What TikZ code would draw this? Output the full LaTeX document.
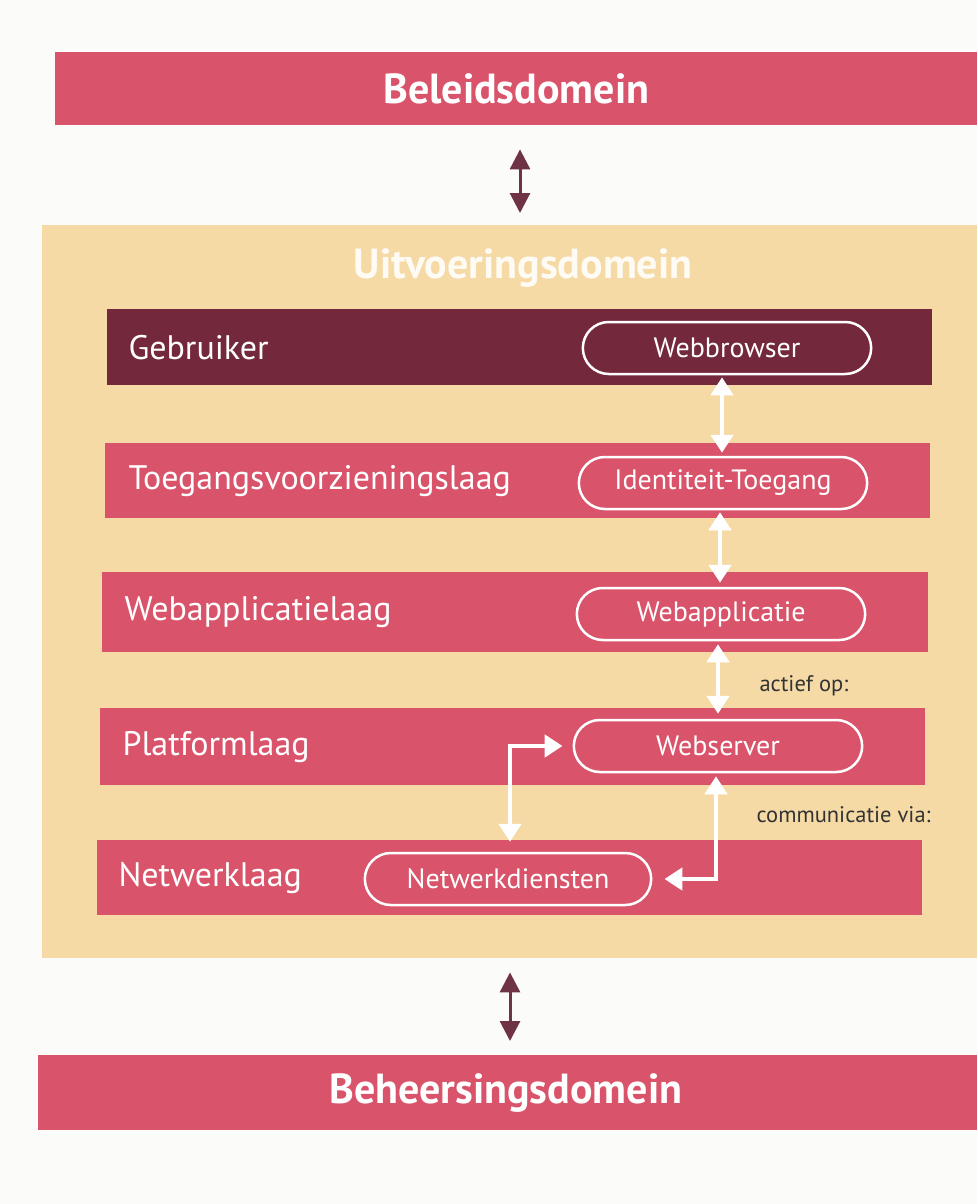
\documentclass[tikz,border=0pt]{standalone}
\usepackage{fontspec}
\setmainfont{PT Sans}
\usetikzlibrary{arrows.meta,shapes.misc}
\definecolor{pinkbar}{HTML}{D9546B}
\definecolor{darkbar}{HTML}{74283B}
\definecolor{panelc}{HTML}{F6DAA6}
\definecolor{maroonarrow}{HTML}{6E3344}
\definecolor{paper}{HTML}{FBFBF9}
\begin{document}
\begin{tikzpicture}[x=1pt,y=-1pt,
  bar/.style={fill=pinkbar, draw=none, anchor=north west, inner sep=0pt},
  domtext/.style={text=white, font=\fontsize{42}{48}\selectfont\bfseries},
  laytext/.style={text=white, anchor=west, font=\fontsize{34}{40}\selectfont},
  pill/.style={rounded rectangle, draw=white, line width=2.5pt, minimum width=295pt, minimum height=52pt, text=white, font=\fontsize{28}{32}\selectfont},
  note/.style={text=black!80, font=\fontsize{22.5}{26}\selectfont, anchor=west},
  warrow/.style={draw=white, line width=4.5pt, {Triangle[width=22pt,length=18pt]}-{Triangle[width=22pt,length=18pt]}},
  darrow/.style={draw=maroonarrow, line width=3pt, {Triangle[width=20pt,length=20pt]}-{Triangle[width=20pt,length=20pt]}}
]
\useasboundingbox (0,0) rectangle (977,1204);
\fill[paper] (0,0) rectangle (977,1204);

% domain bars and panel
\node[bar, minimum width=922pt, minimum height=73pt] (bel) at (55,52) {};
\node[domtext] at (bel.center) {Beleidsdomein};
\node[bar, fill=panelc, minimum width=935pt, minimum height=733pt] (panel) at (42,225) {};
\node[domtext, text=white!88!panelc] (uit) at (523,268) {Uitvoeringsdomein};
\node[bar, minimum width=939pt, minimum height=75pt] (beh) at (38,1055) {};
\node[domtext] at ([xshift=-2pt]beh.center) {Beheersingsdomein};

\draw[darrow, shorten <=24pt, shorten >=12pt] (bel.south -| 520,0) -- (panel.north -| 520,0);
\draw[darrow, shorten <=14pt, shorten >=14pt] (panel.south -| 510,0) -- (beh.north -| 510,0);

% layers
\node[bar, fill=darkbar, minimum width=825pt, minimum height=76pt] (gebr) at (107,309) {};
\node[laytext] at ([xshift=18pt]gebr.west) {Gebruiker};
\node[bar, minimum width=825pt, minimum height=75pt] (toeg) at (105,443) {};
\node[laytext] at ([xshift=20pt]toeg.west) {Toegangsvoorzieningslaag};
\node[bar, minimum width=826pt, minimum height=80pt] (weba) at (102,572) {};
\node[laytext] at ([xshift=19pt]weba.west) {Webapplicatielaag};
\node[bar, minimum width=825pt, minimum height=77pt] (plat) at (100,708) {};
\node[laytext] at ([xshift=19pt]plat.west) {Platformlaag};
\node[bar, minimum width=825pt, minimum height=75pt] (netw) at (97,840) {};
\node[laytext] at ([xshift=18pt]netw.west) {Netwerklaag};

% components
\node[pill] (wb) at (727,348) {Webbrowser};
\node[pill] (it) at (723,483) {Identiteit-Toegang};
\node[pill] (wa) at (721,614) {Webapplicatie};
\node[pill] (ws) at (718,746) {Webserver};
\node[pill, minimum width=293pt] (nd) at (508,879) {Netwerkdiensten};

\node[note] (act) at (756,686) {actief op:};
\node[note] (com) at (753,815) {communicatie via:};

% connectors
\draw[warrow, shorten <=2pt, shorten >=3pt] (wb.south -| 722,0) -- (it.north -| 722,0);
\draw[warrow, shorten <=2pt, shorten >=4pt] (it.south -| 720,0) -- (wa.north -| 720,0);
\draw[warrow, shorten <=3pt, shorten >=5pt] (wa.south -| 718,0) -- (ws.north -| 718,0);
\draw[warrow, shorten >=10pt, shorten <=10pt] (nd.north -| 510,0) |- (ws.west);
\draw[warrow, shorten <=3pt, shorten >=12pt] (ws.south -| 716,0) |- (nd.east);
\end{tikzpicture}
\end{document}
